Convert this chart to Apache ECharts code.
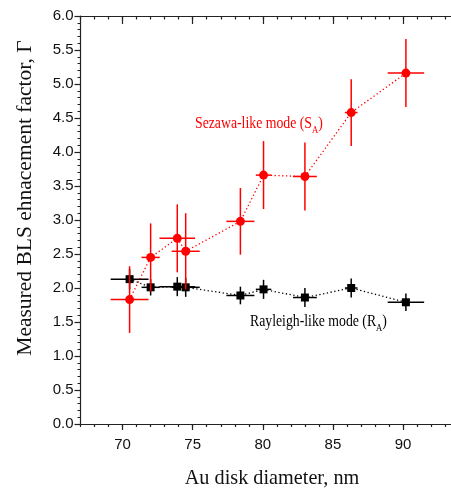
<!DOCTYPE html>
<html>
<head>
<meta charset="utf-8">
<script src="https://cdn.jsdelivr.net/npm/echarts@6/dist/echarts.min.js"></script>
<style>html,body{margin:0;padding:0;background:#fff;}#c{width:451px;height:491px;}</style>
</head>
<body>
<div id="c"></div>
<script>
// Au disk diameter (nm) and its uncertainty
const diameter    = [70.5, 72.0, 73.9, 74.5, 78.4, 80.05, 83.0, 86.3, 90.2];
const diameterErr = [1.35, 0.65, 1.27, 1.0, 1.0, 0.55, 0.85, 0.45, 1.3];
// Sezawa-like mode (S_A)
const sezawa    = [1.83, 2.45, 2.73, 2.54, 2.98, 3.66, 3.64, 4.58, 5.16];
const sezawaErr = [0.49, 0.5, 0.5, 0.56, 0.49, 0.5, 0.5, 0.49, 0.5];
// Rayleigh-like mode (R_A)
const rayleigh    = [2.13, 2.01, 2.02, 2.01, 1.89, 1.98, 1.86, 2.0, 1.79];
const rayleighErr = [0.15, 0.12, 0.14, 0.14, 0.13, 0.14, 0.14, 0.14, 0.13];
// axis ticks
const xMajorTicks = [70, 75, 80, 85, 90];
const xMin = 67, xMax = 94;
const yMin = 0, yMax = 6, yStep = 0.5;

const chart = echarts.init(document.getElementById('c'));

function pts(ys){ return diameter.map((x,i)=>[x, ys[i]]); }
function errData(ys, yerr){ return diameter.map((x,i)=>[x, ys[i], diameterErr[i], yerr[i]]); }
function errRender(color){
  return function(params, api){
    const x = api.value(0), y = api.value(1), ex = api.value(2), ey = api.value(3);
    const l = api.coord([x-ex, y]), r = api.coord([x+ex, y]);
    const t = api.coord([x, y+ey]), b = api.coord([x, y-ey]);
    const st = {stroke: color, lineWidth: 1.5};
    return {type:'group', children:[
      {type:'line', shape:{x1:l[0], y1:l[1], x2:r[0], y2:r[1]}, style:st},
      {type:'line', shape:{x1:t[0], y1:t[1], x2:b[0], y2:b[1]}, style:st}
    ]};
  };
}
const axColor = '#222';
const labelFont = {fontFamily:'Liberation Sans', fontSize:15, color:'#111'};
const serif = 'Liberation Serif';

chart.setOption({
  animation:false,
  grid:{left:80.5, top:16, width:378.7, bottom:67, containLabel:false, outerBoundsMode:'none'},
  xAxis:[
    {type:'value', min:xMin, max:xMax, position:'bottom',
     axisLine:{show:true, onZero:false, lineStyle:{color:axColor, width:1.2}},
     axisTick:{show:true, inside:false, length:6, customValues:xMajorTicks, lineStyle:{color:axColor, width:1.2}},
     axisLabel:{show:true, margin:13, customValues:xMajorTicks, ...labelFont},
     splitLine:{show:false}},
    {type:'value', min:xMin, max:xMax, interval:1, position:'bottom',
     axisLine:{show:false, onZero:false},
     axisTick:{show:true, inside:false, length:3, lineStyle:{color:axColor, width:1.2}},
     axisLabel:{show:false}, splitLine:{show:false}},
    {type:'value', min:xMin, max:xMax, position:'top',
     axisLine:{show:true, onZero:false, lineStyle:{color:axColor, width:1.2}},
     axisTick:{show:true, inside:true, length:8, customValues:xMajorTicks, lineStyle:{color:axColor, width:1.2}},
     axisLabel:{show:false}, splitLine:{show:false}},
    {type:'value', min:xMin, max:xMax, interval:1, position:'top',
     axisLine:{show:false, onZero:false},
     axisTick:{show:true, inside:true, length:3.5, lineStyle:{color:axColor, width:1.2}},
     axisLabel:{show:false}, splitLine:{show:false}}
  ],
  yAxis:[
    {type:'value', min:yMin, max:yMax, interval:yStep, position:'left',
     axisLine:{show:true, onZero:false, lineStyle:{color:axColor, width:1.2}},
     axisTick:{show:true, inside:false, length:6, lineStyle:{color:axColor, width:1.2}},
     minorTick:{show:true, splitNumber:5, length:3, lineStyle:{color:axColor, width:1}},
     axisLabel:{show:true, margin:7, formatter:v=>v.toFixed(1), ...labelFont},
     splitLine:{show:false}}
  ],
  series:[
    {type:'custom', xAxisIndex:0, yAxisIndex:0, renderItem:errRender('#000'), data:errData(rayleigh, rayleighErr), z:1},
    {type:'line', xAxisIndex:0, yAxisIndex:0, data:pts(rayleigh), symbol:'rect', symbolSize:8,
     itemStyle:{color:'#000'}, lineStyle:{color:'#000', width:1.3, type:[1.3,2.5]}, z:2},
    {type:'custom', xAxisIndex:0, yAxisIndex:0, renderItem:errRender('#ff0000'), data:errData(sezawa, sezawaErr), z:3},
    {type:'line', xAxisIndex:0, yAxisIndex:0, data:pts(sezawa), symbol:'circle', symbolSize:9,
     itemStyle:{color:'#ff0000'}, lineStyle:{color:'#ff0000', width:1.3, type:[1.3,2.5]}, z:4}
  ],
  graphic:[
    {type:'text', x:25, y:198, rotation:Math.PI/2,
     style:{text:'Measured BLS ehnacement factor, Γ', font:'21.5px "Liberation Serif"', fill:'#111', align:'center', verticalAlign:'middle'}},
    {type:'text', x:272, y:478, scaleX:0.92,
     style:{text:'Au disk diameter, nm', font:'22px "Liberation Serif"', fill:'#111', align:'center', verticalAlign:'middle'}},
    {type:'text', x:195, y:113, scaleX:0.86,
     style:{text:'Sezawa-like mode (S{sub|A})', fill:'#ff0000', font:'16px "Liberation Serif"', align:'left', verticalAlign:'top',
       rich:{sub:{fontSize:10, fontFamily:serif, fill:'#ff0000', padding:[12,0,0,0], verticalAlign:'bottom'}}}},
    {type:'text', x:250, y:311, scaleX:0.86,
     style:{text:'Rayleigh-like mode (R{sub|A})', fill:'#000', font:'16px "Liberation Serif"', align:'left', verticalAlign:'top',
       rich:{sub:{fontSize:10, fontFamily:serif, fill:'#000', padding:[12,0,0,0], verticalAlign:'bottom'}}}}
  ]
});
</script>
</body>
</html>
